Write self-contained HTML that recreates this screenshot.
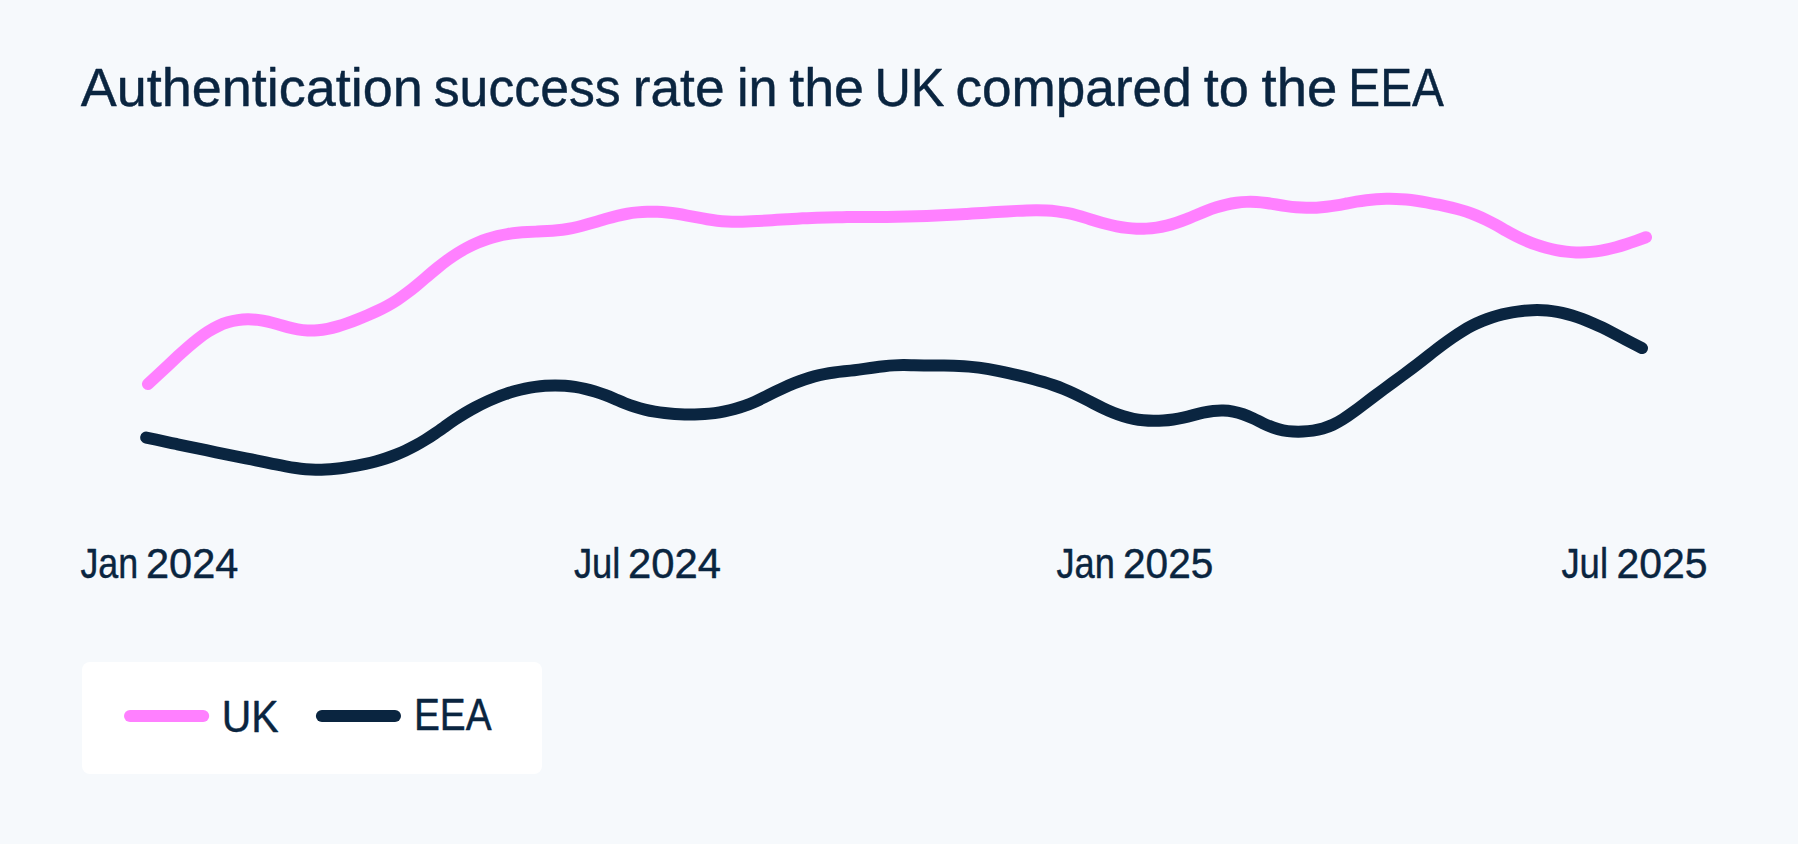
<!DOCTYPE html>
<html lang="en">
<head>
<meta charset="utf-8">
<title>Authentication success rate in the UK compared to the EEA</title>
<style>
  html, body { margin: 0; padding: 0; }
  body { width: 1798px; height: 844px; background: #f6f9fc; overflow: hidden; position: relative;
         font-family: "Liberation Sans", sans-serif; color: #0a2540; }
  svg { position: absolute; left: 0; top: 0; display: block; }
  text { font-family: "Liberation Sans", sans-serif; fill: #0a2540; stroke: #0a2540; stroke-width: 0.45px; stroke-linejoin: round; }
</style>
</head>
<body>
<svg width="1798" height="844" viewBox="0 0 1798 844">
  <rect x="0" y="0" width="1798" height="844" fill="#f6f9fc"/>

  <!-- series -->
  <path id="uk" fill="none" stroke="#ff80ff" stroke-width="12" stroke-linecap="round" stroke-linejoin="round"
        d="M147.90 384.05 C151.23 381.02 154.56 377.98 157.89 374.90 C161.22 371.82 164.55 368.71 167.87 365.57 C171.20 362.43 174.53 359.29 177.86 356.20 C181.19 353.11 184.52 350.08 187.85 347.18 C191.18 344.27 194.51 341.49 197.84 338.90 C201.17 336.31 204.49 333.92 207.82 331.78 C211.15 329.64 214.48 327.77 217.81 326.20 C221.14 324.63 224.47 323.35 227.80 322.34 C231.13 321.32 234.46 320.57 237.79 320.07 C241.12 319.57 244.44 319.32 247.77 319.29 C251.10 319.26 254.43 319.46 257.76 319.86 C261.09 320.27 264.42 320.88 267.75 321.66 C271.08 322.44 274.41 323.36 277.74 324.31 C281.06 325.26 284.39 326.23 287.72 327.11 C291.05 328.00 294.38 328.79 297.71 329.37 C301.04 329.95 304.37 330.32 307.70 330.48 C311.03 330.64 314.36 330.56 317.68 330.28 C321.01 329.99 324.34 329.49 327.67 328.83 C331.00 328.17 334.33 327.33 337.66 326.37 C340.99 325.40 344.32 324.31 347.65 323.12 C350.98 321.93 354.30 320.65 357.63 319.32 C360.96 317.98 364.29 316.60 367.62 315.18 C370.95 313.76 374.28 312.30 377.61 310.73 C380.94 309.16 384.27 307.48 387.60 305.66 C390.93 303.83 394.25 301.85 397.58 299.66 C400.91 297.47 404.24 295.08 407.57 292.54 C410.90 290.01 414.23 287.32 417.56 284.54 C420.89 281.76 424.22 278.91 427.55 276.08 C430.87 273.24 434.20 270.43 437.53 267.73 C440.86 265.03 444.19 262.45 447.52 260.02 C450.85 257.59 454.18 255.31 457.51 253.22 C460.84 251.13 464.17 249.22 467.49 247.47 C470.82 245.72 474.15 244.14 477.48 242.72 C480.81 241.29 484.14 240.03 487.47 238.93 C490.80 237.82 494.13 236.86 497.46 236.06 C500.79 235.25 504.11 234.59 507.44 234.06 C510.77 233.53 514.10 233.13 517.43 232.81 C520.76 232.49 524.09 232.25 527.42 232.06 C530.75 231.86 534.08 231.71 537.41 231.55 C540.74 231.40 544.06 231.24 547.39 231.04 C550.72 230.84 554.05 230.60 557.38 230.27 C560.71 229.94 564.04 229.53 567.37 228.99 C570.70 228.45 574.03 227.77 577.36 226.98 C580.68 226.19 584.01 225.30 587.34 224.35 C590.67 223.40 594.00 222.41 597.33 221.41 C600.66 220.41 603.99 219.41 607.32 218.46 C610.65 217.51 613.98 216.61 617.30 215.82 C620.63 215.02 623.96 214.33 627.29 213.76 C630.62 213.19 633.95 212.74 637.28 212.40 C640.61 212.07 643.94 211.84 647.27 211.73 C650.60 211.62 653.92 211.63 657.25 211.74 C660.58 211.85 663.91 212.08 667.24 212.42 C670.57 212.75 673.90 213.21 677.23 213.74 C680.56 214.27 683.89 214.88 687.22 215.52 C690.55 216.16 693.87 216.82 697.20 217.47 C700.53 218.11 703.86 218.74 707.19 219.29 C710.52 219.85 713.85 220.34 717.18 220.71 C720.51 221.08 723.84 221.33 727.17 221.49 C730.49 221.66 733.82 221.73 737.15 221.73 C740.48 221.73 743.81 221.67 747.14 221.55 C750.47 221.44 753.80 221.28 757.13 221.10 C760.46 220.91 763.79 220.70 767.11 220.49 C770.44 220.28 773.77 220.06 777.10 219.85 C780.43 219.64 783.76 219.43 787.09 219.23 C790.42 219.03 793.75 218.83 797.08 218.65 C800.41 218.46 803.73 218.29 807.06 218.14 C810.39 217.98 813.72 217.84 817.05 217.72 C820.38 217.60 823.71 217.50 827.04 217.42 C830.37 217.34 833.70 217.27 837.03 217.22 C840.36 217.17 843.68 217.13 847.01 217.10 C850.34 217.06 853.67 217.04 857.00 217.02 C860.33 217.00 863.66 216.99 866.99 216.98 C870.32 216.97 873.65 216.95 876.98 216.94 C880.30 216.92 883.63 216.90 886.96 216.88 C890.29 216.85 893.62 216.82 896.95 216.77 C900.28 216.73 903.61 216.67 906.94 216.60 C910.27 216.53 913.60 216.44 916.92 216.34 C920.25 216.23 923.58 216.11 926.91 215.98 C930.24 215.85 933.57 215.70 936.90 215.54 C940.23 215.38 943.56 215.21 946.89 215.04 C950.22 214.86 953.54 214.67 956.87 214.48 C960.20 214.29 963.53 214.09 966.86 213.89 C970.19 213.68 973.52 213.48 976.85 213.27 C980.18 213.06 983.51 212.86 986.84 212.65 C990.17 212.44 993.49 212.24 996.82 212.03 C1000.15 211.83 1003.48 211.63 1006.81 211.44 C1010.14 211.25 1013.47 211.06 1016.80 210.88 C1020.13 210.71 1023.46 210.55 1026.79 210.44 C1030.11 210.33 1033.44 210.26 1036.77 210.27 C1040.10 210.28 1043.43 210.36 1046.76 210.54 C1050.09 210.72 1053.42 211.01 1056.75 211.41 C1060.08 211.82 1063.41 212.35 1066.73 212.98 C1070.06 213.62 1073.39 214.37 1076.72 215.24 C1080.05 216.10 1083.38 217.09 1086.71 218.13 C1090.04 219.16 1093.37 220.24 1096.70 221.25 C1100.03 222.26 1103.35 223.20 1106.68 224.06 C1110.01 224.91 1113.34 225.67 1116.67 226.32 C1120.00 226.97 1123.33 227.51 1126.66 227.91 C1129.99 228.32 1133.32 228.59 1136.65 228.71 C1139.98 228.83 1143.30 228.81 1146.63 228.62 C1149.96 228.44 1153.29 228.10 1156.62 227.59 C1159.95 227.08 1163.28 226.40 1166.61 225.58 C1169.94 224.77 1173.27 223.80 1176.60 222.72 C1179.92 221.63 1183.25 220.43 1186.58 219.12 C1189.91 217.81 1193.24 216.38 1196.57 214.95 C1199.90 213.52 1203.23 212.10 1206.56 210.81 C1209.89 209.52 1213.22 208.35 1216.54 207.31 C1219.87 206.28 1223.20 205.37 1226.53 204.61 C1229.86 203.85 1233.19 203.23 1236.52 202.77 C1239.85 202.31 1243.18 202.01 1246.51 201.87 C1249.84 201.74 1253.16 201.77 1256.49 201.98 C1259.82 202.18 1263.15 202.55 1266.48 202.99 C1269.81 203.44 1273.14 203.97 1276.47 204.51 C1279.80 205.05 1283.13 205.59 1286.46 206.08 C1289.79 206.57 1293.11 206.98 1296.44 207.27 C1299.77 207.57 1303.10 207.74 1306.43 207.80 C1309.76 207.87 1313.09 207.81 1316.42 207.65 C1319.75 207.48 1323.08 207.20 1326.41 206.81 C1329.73 206.41 1333.06 205.90 1336.39 205.33 C1339.72 204.76 1343.05 204.13 1346.38 203.51 C1349.71 202.89 1353.04 202.26 1356.37 201.70 C1359.70 201.14 1363.03 200.65 1366.35 200.24 C1369.68 199.84 1373.01 199.52 1376.34 199.29 C1379.67 199.06 1383.00 198.91 1386.33 198.85 C1389.66 198.79 1392.99 198.82 1396.32 198.94 C1399.65 199.06 1402.97 199.26 1406.30 199.56 C1409.63 199.85 1412.96 200.24 1416.29 200.71 C1419.62 201.18 1422.95 201.73 1426.28 202.33 C1429.61 202.93 1432.94 203.58 1436.27 204.26 C1439.60 204.94 1442.92 205.65 1446.25 206.37 C1449.58 207.09 1452.91 207.84 1456.24 208.70 C1459.57 209.55 1462.90 210.52 1466.23 211.63 C1469.56 212.73 1472.89 213.97 1476.22 215.34 C1479.54 216.71 1482.87 218.20 1486.20 219.82 C1489.53 221.44 1492.86 223.20 1496.19 225.06 C1499.52 226.92 1502.85 228.87 1506.18 230.77 C1509.51 232.66 1512.84 234.47 1516.16 236.14 C1519.49 237.82 1522.82 239.36 1526.15 240.79 C1529.48 242.21 1532.81 243.50 1536.14 244.67 C1539.47 245.84 1542.80 246.87 1546.13 247.78 C1549.46 248.69 1552.78 249.47 1556.11 250.11 C1559.44 250.76 1562.77 251.27 1566.10 251.65 C1569.43 252.03 1572.76 252.28 1576.09 252.39 C1579.42 252.50 1582.75 252.47 1586.08 252.31 C1589.41 252.14 1592.73 251.84 1596.06 251.40 C1599.39 250.96 1602.72 250.38 1606.05 249.67 C1609.38 248.97 1612.71 248.15 1616.04 247.23 C1619.37 246.32 1622.70 245.31 1626.03 244.24 C1629.35 243.16 1632.68 242.02 1636.01 240.85 C1639.34 239.67 1642.67 238.45 1646.00 237.23"/>
  <path id="eea" fill="none" stroke="#0a2540" stroke-width="12" stroke-linecap="round" stroke-linejoin="round"
        d="M146.20 437.58 C149.52 438.29 152.85 439.00 156.17 439.71 C159.50 440.41 162.82 441.12 166.14 441.83 C169.47 442.54 172.79 443.25 176.12 443.95 C179.44 444.66 182.76 445.36 186.09 446.07 C189.41 446.77 192.74 447.46 196.06 448.16 C199.38 448.85 202.71 449.54 206.03 450.23 C209.36 450.91 212.68 451.59 216.00 452.26 C219.33 452.93 222.65 453.60 225.98 454.27 C229.30 454.93 232.62 455.60 235.95 456.26 C239.27 456.93 242.60 457.59 245.92 458.26 C249.24 458.94 252.57 459.61 255.89 460.30 C259.22 460.98 262.54 461.68 265.86 462.38 C269.19 463.08 272.51 463.79 275.84 464.47 C279.16 465.15 282.48 465.81 285.81 466.42 C289.13 467.03 292.46 467.59 295.78 468.06 C299.10 468.54 302.43 468.94 305.75 469.22 C309.08 469.51 312.40 469.69 315.72 469.74 C319.05 469.78 322.37 469.70 325.70 469.52 C329.02 469.34 332.34 469.06 335.67 468.71 C338.99 468.35 342.32 467.92 345.64 467.44 C348.96 466.95 352.29 466.42 355.61 465.84 C358.94 465.25 362.26 464.59 365.58 463.87 C368.91 463.14 372.23 462.34 375.56 461.44 C378.88 460.54 382.20 459.56 385.53 458.46 C388.85 457.37 392.18 456.17 395.50 454.86 C398.82 453.54 402.15 452.12 405.47 450.57 C408.80 449.03 412.12 447.36 415.44 445.56 C418.77 443.77 422.09 441.84 425.42 439.77 C428.74 437.71 432.06 435.49 435.39 433.21 C438.71 430.93 442.04 428.57 445.36 426.23 C448.68 423.89 452.01 421.57 455.33 419.33 C458.66 417.10 461.98 414.97 465.30 412.98 C468.63 410.98 471.95 409.11 475.28 407.34 C478.60 405.58 481.92 403.91 485.25 402.34 C488.57 400.78 491.90 399.31 495.22 397.96 C498.54 396.60 501.87 395.34 505.19 394.20 C508.52 393.05 511.84 392.01 515.16 391.09 C518.49 390.16 521.81 389.34 525.14 388.63 C528.46 387.93 531.78 387.33 535.11 386.85 C538.43 386.38 541.76 386.01 545.08 385.77 C548.40 385.53 551.73 385.41 555.05 385.41 C558.38 385.41 561.70 385.53 565.02 385.78 C568.35 386.03 571.67 386.41 575.00 386.91 C578.32 387.42 581.64 388.06 584.97 388.82 C588.29 389.59 591.62 390.48 594.94 391.49 C598.26 392.50 601.59 393.64 604.91 394.88 C608.24 396.13 611.56 397.51 614.88 398.94 C618.21 400.38 621.53 401.86 624.86 403.21 C628.18 404.56 631.50 405.77 634.83 406.83 C638.15 407.88 641.48 408.79 644.80 409.58 C648.12 410.37 651.45 411.04 654.77 411.60 C658.10 412.16 661.42 412.62 664.74 412.99 C668.07 413.37 671.39 413.66 674.72 413.89 C678.04 414.12 681.36 414.29 684.69 414.39 C688.01 414.50 691.34 414.53 694.66 414.49 C697.98 414.44 701.31 414.31 704.63 414.08 C707.96 413.86 711.28 413.53 714.60 413.10 C717.93 412.67 721.25 412.12 724.58 411.46 C727.90 410.79 731.22 410.00 734.55 409.08 C737.87 408.16 741.20 407.11 744.52 405.93 C747.84 404.74 751.17 403.42 754.49 401.96 C757.82 400.50 761.14 398.88 764.46 397.20 C767.79 395.53 771.11 393.80 774.44 392.15 C777.76 390.51 781.08 388.92 784.41 387.42 C787.73 385.91 791.06 384.49 794.38 383.15 C797.70 381.82 801.03 380.58 804.35 379.45 C807.68 378.32 811.00 377.30 814.32 376.39 C817.65 375.49 820.97 374.71 824.30 374.07 C827.62 373.43 830.94 372.92 834.27 372.48 C837.59 372.04 840.92 371.67 844.24 371.31 C847.56 370.96 850.89 370.61 854.21 370.22 C857.54 369.83 860.86 369.38 864.18 368.90 C867.51 368.42 870.83 367.92 874.16 367.46 C877.48 366.99 880.80 366.57 884.13 366.21 C887.45 365.86 890.78 365.56 894.10 365.37 C897.42 365.17 900.75 365.07 904.07 365.09 C907.40 365.11 910.72 365.25 914.04 365.34 C917.37 365.44 920.69 365.49 924.02 365.51 C927.34 365.54 930.66 365.55 933.99 365.56 C937.31 365.57 940.64 365.57 943.96 365.61 C947.28 365.64 950.61 365.69 953.93 365.79 C957.26 365.89 960.58 366.04 963.90 366.25 C967.23 366.46 970.55 366.73 973.88 367.10 C977.20 367.47 980.52 367.92 983.85 368.44 C987.17 368.96 990.50 369.55 993.82 370.18 C997.14 370.82 1000.47 371.49 1003.79 372.20 C1007.12 372.90 1010.44 373.62 1013.76 374.37 C1017.09 375.12 1020.41 375.89 1023.74 376.69 C1027.06 377.49 1030.38 378.32 1033.71 379.20 C1037.03 380.08 1040.36 381.01 1043.68 382.01 C1047.00 383.01 1050.33 384.07 1053.65 385.22 C1056.98 386.37 1060.30 387.61 1063.62 388.95 C1066.95 390.29 1070.27 391.75 1073.60 393.31 C1076.92 394.87 1080.24 396.52 1083.57 398.22 C1086.89 399.91 1090.22 401.64 1093.54 403.34 C1096.86 405.04 1100.19 406.72 1103.51 408.31 C1106.84 409.90 1110.16 411.41 1113.48 412.77 C1116.81 414.13 1120.13 415.34 1123.46 416.35 C1126.78 417.36 1130.10 418.19 1133.43 418.85 C1136.75 419.50 1140.08 419.99 1143.40 420.32 C1146.72 420.65 1150.05 420.83 1153.37 420.86 C1156.70 420.90 1160.02 420.79 1163.34 420.55 C1166.67 420.31 1169.99 419.94 1173.32 419.45 C1176.64 418.96 1179.96 418.35 1183.29 417.62 C1186.61 416.89 1189.94 416.03 1193.26 415.15 C1196.58 414.26 1199.91 413.37 1203.23 412.63 C1206.56 411.90 1209.88 411.33 1213.20 410.96 C1216.53 410.59 1219.85 410.43 1223.18 410.51 C1226.50 410.59 1229.82 410.92 1233.15 411.53 C1236.47 412.15 1239.80 413.06 1243.12 414.24 C1246.44 415.42 1249.77 416.84 1253.09 418.40 C1256.42 419.96 1259.74 421.69 1263.06 423.29 C1266.39 424.89 1269.71 426.34 1273.04 427.52 C1276.36 428.70 1279.68 429.64 1283.01 430.30 C1286.33 430.96 1289.66 431.34 1292.98 431.52 C1296.30 431.70 1299.63 431.70 1302.95 431.56 C1306.28 431.43 1309.60 431.14 1312.92 430.65 C1316.25 430.15 1319.57 429.46 1322.90 428.49 C1326.22 427.53 1329.54 426.31 1332.87 424.77 C1336.19 423.23 1339.52 421.36 1342.84 419.27 C1346.16 417.19 1349.49 414.88 1352.81 412.45 C1356.14 410.03 1359.46 407.50 1362.78 404.95 C1366.11 402.41 1369.43 399.88 1372.76 397.39 C1376.08 394.90 1379.40 392.43 1382.73 389.98 C1386.05 387.53 1389.38 385.09 1392.70 382.65 C1396.02 380.21 1399.35 377.76 1402.67 375.30 C1406.00 372.83 1409.32 370.35 1412.64 367.83 C1415.97 365.31 1419.29 362.74 1422.62 360.15 C1425.94 357.57 1429.26 354.96 1432.59 352.38 C1435.91 349.80 1439.24 347.25 1442.56 344.76 C1445.88 342.28 1449.21 339.87 1452.53 337.57 C1455.86 335.27 1459.18 333.08 1462.50 331.05 C1465.83 329.02 1469.15 327.16 1472.48 325.47 C1475.80 323.78 1479.12 322.27 1482.45 320.90 C1485.77 319.54 1489.10 318.33 1492.42 317.26 C1495.74 316.18 1499.07 315.25 1502.39 314.44 C1505.72 313.63 1509.04 312.95 1512.36 312.37 C1515.69 311.79 1519.01 311.32 1522.34 310.95 C1525.66 310.59 1528.98 310.33 1532.31 310.20 C1535.63 310.07 1538.96 310.07 1542.28 310.21 C1545.60 310.36 1548.93 310.65 1552.25 311.10 C1555.58 311.55 1558.90 312.16 1562.22 312.89 C1565.55 313.63 1568.87 314.51 1572.20 315.51 C1575.52 316.51 1578.84 317.63 1582.17 318.86 C1585.49 320.10 1588.82 321.44 1592.14 322.88 C1595.46 324.32 1598.79 325.86 1602.11 327.48 C1605.44 329.10 1608.76 330.79 1612.08 332.52 C1615.41 334.25 1618.73 336.01 1622.06 337.78 C1625.38 339.54 1628.70 341.31 1632.03 343.04 C1635.35 344.77 1638.68 346.47 1642.00 348.09"/>


  <!-- legend -->
  <rect x="82" y="662" width="460" height="112" rx="8" ry="8" fill="#ffffff"/>
  <line x1="130" y1="716" x2="203.2" y2="716" stroke="#ff80ff" stroke-width="12" stroke-linecap="round"/>
  <line x1="321.9" y1="716" x2="395" y2="716" stroke="#0a2540" stroke-width="12" stroke-linecap="round"/>

  <!-- title, axis labels, legend labels (one element per word so positions match) -->
  <text id="t1" x="80.86" y="106.0" font-size="54" textLength="341.78" lengthAdjust="spacingAndGlyphs">Authentication</text>
  <text id="t2" x="433.74" y="106.0" font-size="54" textLength="186.98" lengthAdjust="spacingAndGlyphs">success</text>
  <text id="t3" x="632.76" y="106.0" font-size="54" textLength="91.79" lengthAdjust="spacingAndGlyphs">rate</text>
  <text id="t4" x="736.96" y="106.0" font-size="54" textLength="40.62" lengthAdjust="spacingAndGlyphs">in</text>
  <text id="t5" x="789.22" y="106.0" font-size="54" textLength="74.77" lengthAdjust="spacingAndGlyphs">the</text>
  <text id="t6" x="874.42" y="106.0" font-size="54" textLength="70.02" lengthAdjust="spacingAndGlyphs">UK</text>
  <text id="t7" x="955.48" y="106.0" font-size="54" textLength="236.24" lengthAdjust="spacingAndGlyphs">compared</text>
  <text id="t8" x="1203.73" y="106.0" font-size="54" textLength="45.16" lengthAdjust="spacingAndGlyphs">to</text>
  <text id="t9" x="1261.51" y="106.0" font-size="54" textLength="75.72" lengthAdjust="spacingAndGlyphs">the</text>
  <text id="t10" x="1348.31" y="106.0" font-size="54" textLength="95.69" lengthAdjust="spacingAndGlyphs">EEA</text>
  <text id="a1" x="80.44" y="578.0" font-size="42.5" textLength="57.74" lengthAdjust="spacingAndGlyphs">Jan</text>
  <text id="a2" x="146.02" y="578.0" font-size="42.5" textLength="92.30" lengthAdjust="spacingAndGlyphs">2024</text>
  <text id="a3" x="573.93" y="578.0" font-size="42.5" textLength="46.53" lengthAdjust="spacingAndGlyphs">Jul</text>
  <text id="a4" x="628.05" y="578.0" font-size="42.5" textLength="92.94" lengthAdjust="spacingAndGlyphs">2024</text>
  <text id="a5" x="1056.49" y="578.0" font-size="42.5" textLength="58.34" lengthAdjust="spacingAndGlyphs">Jan</text>
  <text id="a6" x="1123.03" y="578.0" font-size="42.5" textLength="90.32" lengthAdjust="spacingAndGlyphs">2025</text>
  <text id="a7" x="1561.41" y="578.0" font-size="42.5" textLength="46.59" lengthAdjust="spacingAndGlyphs">Jul</text>
  <text id="a8" x="1616.55" y="578.0" font-size="42.5" textLength="91.08" lengthAdjust="spacingAndGlyphs">2025</text>
  <text id="l1" x="221.74" y="731.7" font-size="44.5" textLength="56.81" lengthAdjust="spacingAndGlyphs">UK</text>
  <text id="l2" x="413.95" y="729.8" font-size="44.5" textLength="77.65" lengthAdjust="spacingAndGlyphs">EEA</text>
</svg>
</body>
</html>
